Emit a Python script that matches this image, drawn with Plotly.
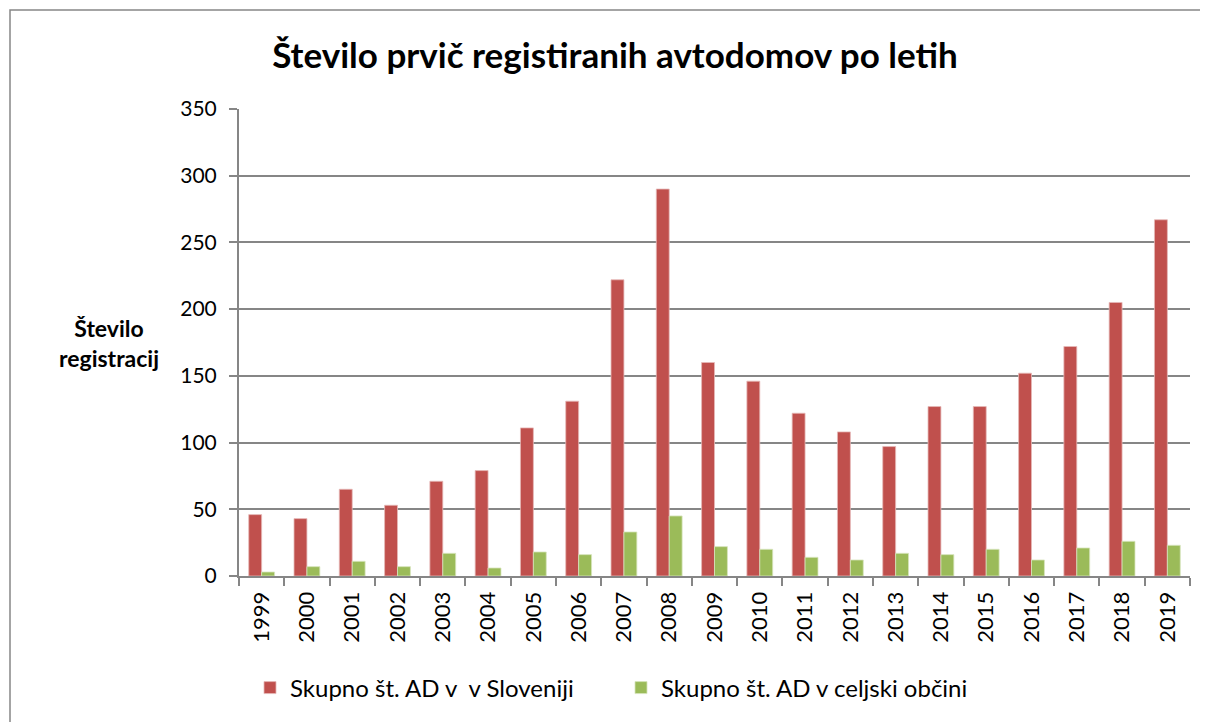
import plotly.graph_objects as go

years = [str(y) for y in range(1999, 2020)]
slovenija = [46, 43, 65, 53, 71, 79, 111, 131, 222, 290, 160, 146, 122, 108, 97, 127, 127, 152, 172, 205, 267]
celje = [3, 7, 11, 7, 17, 6, 18, 16, 33, 45, 22, 20, 14, 12, 17, 16, 20, 12, 21, 26, 23]
name_slo = "Skupno št. AD v \u00a0v Sloveniji"
name_ce = "Skupno št. AD v celjski občini"
title = "Število prvič registiranih avtodomov po letih"
ytitle = "<b>Število<br>registracij</b>"

FONT = "Lato"
OFF = 8  # page body margin
L, T, PW, PH = 239 - OFF, 109 - OFF, 951, 467

fig = go.Figure()
fig.add_trace(go.Bar(x=years, y=slovenija, name=name_slo, marker=dict(color="#C0504D", line=dict(color="#E6B9B8", width=0.8))))
fig.add_trace(go.Bar(x=years, y=celje, name=name_ce, marker=dict(color="#9BBB59", line=dict(color="#D7E4BD", width=0.8))))

fig.update_layout(
    width=1208, height=722,
    margin=dict(l=L, r=1208 - L - PW, t=T, b=722 - T - PH, autoexpand=False),
    paper_bgcolor="white", plot_bgcolor="white",
    barmode="group", bargap=0.43, bargroupgap=0,
    font=dict(family=FONT, size=21, color="black"),
    title=dict(text="<b>" + title + "</b>", x=(615 - OFF) / 1208, xanchor="center", y=1 - (56 - OFF) / 722, yanchor="middle",
               font=dict(family=FONT, size=35, color="black")),
    showlegend=True,
    legend=dict(orientation="h", x=(250 - 239) / 951, xanchor="left", y=(576 - 688) / 467, yanchor="middle",
                font=dict(family=FONT, size=24), itemwidth=30, entrywidth=326, traceorder="normal"),
)
fig.update_xaxes(type="category", showline=True, linecolor="#868686", linewidth=2,
                 ticks="outside", tickson="boundaries", ticklen=8, tickcolor="#868686", tickwidth=2,
                 tickangle=-90, showgrid=False, tickfont=dict(family=FONT, size=22), ticklabelstandoff=5)
fig.update_yaxes(range=[0, 350], dtick=50, showline=True, linecolor="#868686", linewidth=2,
                 ticks="outside", ticklen=8, tickcolor="#868686", tickwidth=2,
                 showgrid=True, gridcolor="#868686", gridwidth=2, zeroline=False,
                 tickfont=dict(family=FONT, size=21), ticklabelstandoff=8)

fig.add_annotation(text=ytitle, xref="paper", yref="paper", x=(109 - 239) / 951, y=(576 - 343) / 467,
                   xanchor="center", yanchor="middle", showarrow=False, align="center",
                   font=dict(family=FONT, size=23, color="black"))

fig.add_shape(type="rect", xref="paper", yref="paper",
              x0=(10 - 239) / 951, x1=(1212 - 239) / 951, y0=(576 - 730) / 467, y1=(576 - 10) / 467,
              line=dict(color="#868686", width=1.5), fillcolor="rgba(0,0,0,0)", layer="below")

fig.write_html("out.html")
